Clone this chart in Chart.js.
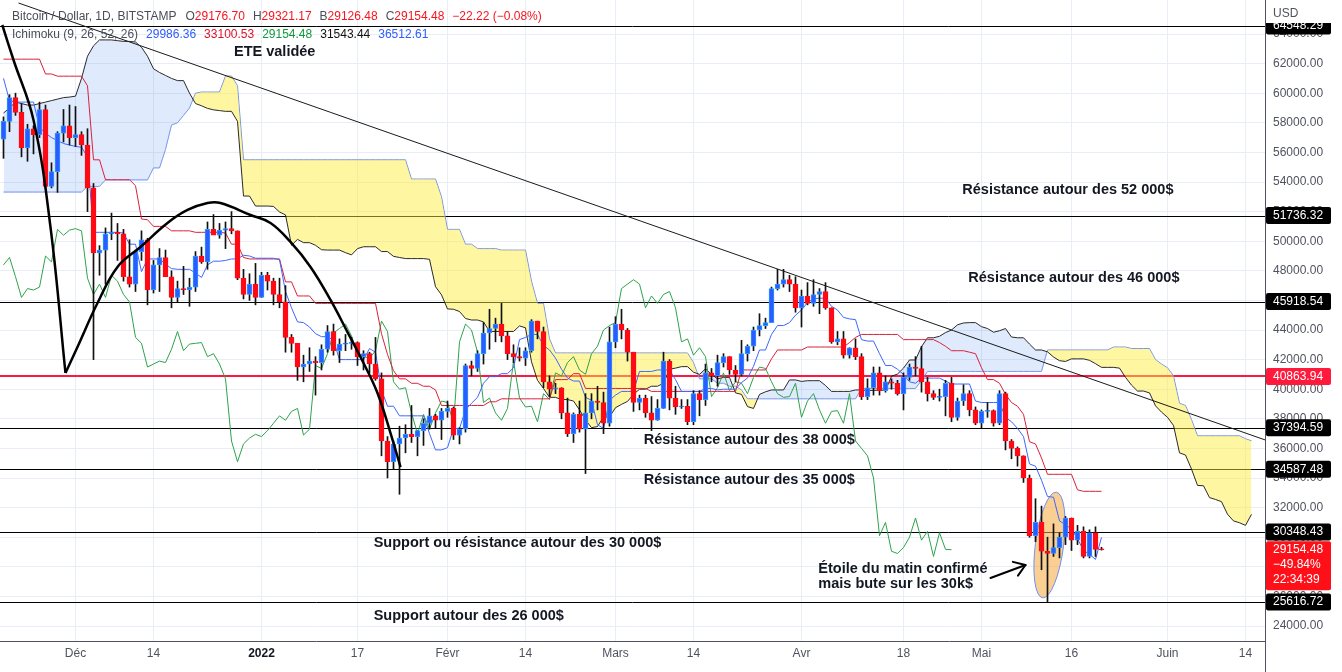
<!DOCTYPE html>
<html>
<head>
<meta charset="utf-8">
<script src="https://cdn.jsdelivr.net/npm/chart.js@4.4.0/dist/chart.umd.min.js"></script>
<style>
  html, body { margin: 0; padding: 0; background: #fff; }
  canvas { display: block; }
</style>
</head>
<body>
<canvas id="chart" width="1342" height="672"></canvas>
<script>
// BTC/USD daily (Bitstamp), day 0 = 19 Nov 2021, last candle = 21 May 2022
const opens = [
  56900,58100,59700,58700,56300,57600,57200,58900,53700,54700,57300,57800,
  57000,57200,56500,53600,49200,49400,50500,50600,50500,47600,47100,49300,
  50100,46700,48400,48900,47600,46200,46800,46700,46900,49000,48600,50800,
  50400,50750,50850,50700,47500,46400,47100,46200,47700,47300,46400,45900,
  43500,43100,41500,41700,41900,41800,42700,43900,42600,43050,43100,43150,
  42200,42400,41700,40700,36500,35100,36300,36700,36950,36800,37200,37700,
  38200,37900,38500,38700,36900,37300,41600,41400,42400,43800,44100,44400,
  43600,42400,42200,42100,42600,44600,43900,40500,40000,40100,38400,37000,
  38300,37300,38400,39200,39100,37700,43200,44400,44000,42500,39100,39400,
  38400,37900,38700,41900,39400,38800,38850,37800,39700,39300,41100,40900,
  41800,42200,41300,41000,42400,42900,44000,44300,44500,46800,47100,47400,
  47100,45500,46300,45800,46400,46600,45500,43200,43400,42300,42800,42200,
  39500,40100,41100,39900,40500,40400,39700,40800,41500,41400,40500,39700,
  39450,39500,40400,38100,39200,39700,38600,37700,38500,38550,37700,39700,
  36500,36000,35500,34000,30100,31000,29050,28900,29300,30000,31300,29800,
  30400,28700,30300,29176.70
];
const highs = [
  58400,59900,60000,59300,57900,57800,59400,59200,55300,57400,58900,59200,
  59100,57400,57600,53900,49700,50900,51900,51200,50800,50100,49400,50700,
  50200,48700,49500,49400,48000,47300,48300,47500,49300,49600,51300,51800,
  51200,51300,52000,50700,48100,47800,48500,47900,47900,47500,47500,47000,
  43700,43100,42300,42800,42200,43000,44300,44400,43400,43700,43500,43200,
  42600,42500,43500,41100,36800,36500,37500,37600,38900,37200,38000,38700,
  38300,38700,39200,38800,37400,41700,41900,42600,44500,45400,44800,45800,
  43900,43000,42800,42800,44700,44600,44200,40900,40400,40100,39400,38400,
  39200,39700,39700,40200,39800,44200,44900,45400,44100,42500,39600,39600,
  39500,39300,42500,42000,40200,39300,39300,39900,39900,41700,41400,42300,
  42400,42200,41600,43300,43000,44200,45100,44800,46900,48100,48100,47700,
  47600,46700,47200,47400,46800,47200,45500,43900,43900,42800,43400,42400,
  40700,41500,41500,40900,40700,40600,41100,41700,42200,42900,40800,39900,
  40000,40600,40800,39400,40300,39900,38800,38600,39100,38600,39900,39800,
  36600,36100,35500,34200,32600,32100,30000,30900,30300,31400,31300,30800,
  30700,30500,30700,29321.17
];
const lows = [
  55600,57400,58500,55700,55400,55900,57000,53600,53600,53300,56700,56500,
  56400,55800,52000,42000,47700,47100,50100,48700,47300,46900,46600,48700,
  45700,46500,46600,47600,45500,45900,46400,45600,46600,48500,48100,50500,
  50200,49500,50500,47400,46100,46000,45700,46200,46700,45700,45500,42500,
  42500,40600,40500,41200,39600,41300,42500,42300,41800,42600,42700,41600,
  41300,41100,40600,35500,34000,34600,32900,35700,36400,35500,36200,37300,
  37400,36600,38100,36600,36300,37100,40900,41200,41700,42700,43200,43200,
  42000,41800,41900,41600,42500,43400,40100,39500,39700,38000,36800,36400,
  37100,34300,38000,38600,37000,37500,42800,43400,41900,38500,38600,38100,
  37200,37900,38700,38600,38300,38700,37600,37600,38200,38900,40500,40200,
  41500,41000,40500,40900,41900,42600,43600,44100,44500,46700,46900,46600,
  45200,44200,45700,45600,45100,45400,43100,43000,42100,42100,42000,39300,
  39300,39600,39600,39800,40000,39600,38600,40600,40900,39800,39200,39300,
  39200,38200,37800,37900,38900,38200,37600,37400,38100,37500,37600,35900,
  35300,34800,33700,30000,29700,27800,25617,28700,28600,29500,29100,29500,
  28600,28600,28700,29126.48
];
const closes = [
  58100,59700,58700,56300,57600,57200,58900,53700,54700,57300,57800,57000,
  57200,56500,53600,49200,49400,50500,50600,50500,47600,47100,49300,50100,
  46700,48400,48900,47600,46200,46800,46700,46900,49000,48600,50800,50400,
  50750,50850,50700,47500,46400,47100,46200,47700,47300,46400,45900,43500,
  43100,41500,41700,41900,41800,42700,43900,42600,43050,43100,43150,42200,
  42400,41700,40700,36500,35100,36300,36700,36950,36800,37200,37700,38200,
  37900,38500,38700,36900,37300,41600,41400,42400,43800,44100,44400,43600,
  42400,42200,42100,42600,44600,43900,40500,40000,40100,38400,37000,38300,
  37300,38400,39200,39100,37700,43200,44400,44000,42500,39100,39400,38400,
  37900,38700,41900,39400,38800,38850,37800,39700,39300,41100,40900,41800,
  42200,41300,41000,42400,42900,44000,44300,44500,46800,47100,47400,47100,
  45500,46300,45800,46400,46600,45500,43200,43400,42300,42800,42200,39500,
  40100,41100,39900,40500,40400,39700,40800,41500,41400,40500,39700,39450,
  39500,40400,38100,39200,39700,38600,37700,38500,38550,37700,39700,36500,
  36000,35500,34000,30100,31000,29050,28900,29300,30000,31300,29800,30400,
  28700,30300,29176.70,29154.48
];

// Ichimoku (9, 26, 52, 26), one value per candle
const tenkan = [
  61000,59500,59400,59400,59400,59400,57700,57300,57000,56800,56600,56500,
  56400,56350,55700,50600,50600,50600,50600,50600,50550,49800,49800,47950,
  48800,48800,48800,48450,48150,48100,48100,48100,47850,47550,48400,48650,
  48650,48700,48800,48800,49050,49000,48850,48850,48850,48850,48750,46600,
  45500,44550,44500,44200,43750,43550,43550,43300,42000,42000,42000,42000,
  42000,42750,42500,39950,38850,38850,38200,38200,38200,38200,38200,37000,
  35900,35900,36050,37350,37350,38600,39050,39450,40400,40850,40850,41050,
  41050,41450,43350,43500,43700,43700,42950,42650,42100,41350,40750,40550,
  40550,39450,39250,37600,37350,39250,39600,39850,39850,39850,41200,41200,
  41200,41300,41300,41300,40650,39850,39850,39850,39850,40050,40050,39950,
  40000,40000,40000,40450,40750,41550,42650,42650,43700,44300,44300,44500,
  45000,45350,45850,46100,46150,46150,45600,45350,44850,44750,44700,43350,
  43250,43250,42400,41600,41600,41350,41000,40500,40400,40750,40750,40750,
  40750,40550,40350,40350,40350,40350,39200,39100,39100,39100,39100,38100,
  37800,37350,36800,34950,34800,33850,32750,32700,31100,30850,30550,29900,
  29100,28850,28500,29986.36
];
const kijun = [
  62300,62300,62300,62300,62300,62300,62300,61300,61300,61150,61150,61150,
  61150,61150,60500,55500,55500,54150,54150,54150,54150,54150,53750,51500,
  51450,51000,51000,51000,50700,50700,50700,50700,50600,50600,50600,50600,
  50600,50550,49800,49800,48900,48800,48800,48800,48800,48800,48800,47250,
  47250,46300,46300,46300,45800,45800,45800,45800,45800,45800,45800,45800,
  45800,45800,45800,43750,42350,41250,40700,40700,40400,40400,40200,40200,
  39950,38900,38900,38900,38900,38900,38900,38900,38900,39150,39150,39350,
  39350,39350,39350,39350,39350,39350,39350,39350,40650,40650,40650,41050,
  41050,40050,40050,40050,40050,40050,40050,40050,40050,40050,40050,40050,
  39850,39850,39850,39850,39850,39850,39850,39850,39850,39850,39850,39850,
  39850,39850,39850,41300,41300,41300,41300,41300,42050,42650,42650,42650,
  42650,42650,42850,42850,42850,42850,42850,42850,42850,43150,43500,43700,
  43700,43700,43700,43700,43700,43700,43350,43350,43350,43350,43350,43350,
  43150,42900,42600,42600,42600,42500,42400,41450,40650,40650,40400,39650,
  39100,38850,38300,36450,36300,35350,34250,34250,34250,34250,34250,33200,
  33100,33100,33100,33100.53
];
// leading spans, already placed 25 days ahead (day 0 .. 208)
const spanA = [
  58660,59000,59400,59300,59200,59200,59300,59400,59500,59600,59700,59740,
  59800,61000,62500,63200,63600,63600,63600,63550,63500,63500,63460,63100,
  62500,61650,61400,61200,61000,60850,60850,60000,59300,59150,58975,58875,
  58825,58775,58775,58100,53050,53050,52375,52375,52375,52350,51975,51775,
  49725,50125,49900,49900,49725,49425,49400,49400,49400,49225,49075,49500,
  49625,49625,49625,49300,49300,48975,48900,48825,48825,48825,48825,48775,
  46925,46375,45425,45400,45250,44775,44675,44675,44550,43900,43900,43900,
  43900,43900,44275,44150,41850,40600,40050,39450,39450,39300,39300,39200,
  38600,37925,37400,37475,38125,38125,38750,38975,39175,39650,40000,40000,
  40200,40200,40400,41350,41425,41525,41525,41150,41000,41375,41000,40700,
  40800,40800,39750,39650,38825,38700,39650,39825,39950,39950,39950,40625,
  40625,40525,40575,40575,40575,40250,39850,39850,39850,39850,39950,39950,
  39900,39925,39925,39925,40875,41025,41425,41975,41975,42875,43475,43475,
  43575,43825,44000,44350,44475,44500,44500,44225,44100,43850,43950,44100,
  43525,43475,43475,43050,42650,42650,42525,42175,41925,41875,42050,42050,
  42050,41950,41725,41475,41475,41475,41425,40800,40275,39875,39875,39750,
  38875,38450,38100,37550,35700,35550,34600,33500,33475,32675,32550,32400,
  31550,31100,30975,30800,31543.44
];
const spanB = [
  53320,53320,53320,53320,53320,53320,53320,53320,53320,53320,53320,53320,
  53320,53320,53700,53700,53700,54140,54140,54140,54140,54140,54140,54140,
  54140,54950,54950,56200,57850,58000,58500,59000,60000,60080,60080,60080,
  60080,61160,61160,60500,55500,55500,55500,55500,55500,55500,55500,55500,
  55500,55500,55500,55500,55500,55500,55500,55500,55500,55500,55500,55500,
  55500,55500,55500,55500,55500,55500,55500,55500,54200,54200,54200,54200,
  54200,53000,50800,50800,50800,49800,49800,49500,49500,49500,49500,49400,
  49400,49400,49400,49400,47300,45800,45800,43400,42450,42450,42450,42450,
  42450,42450,42450,42450,42450,42450,42450,42450,42450,42450,42450,42450,
  42450,42450,42450,42450,42450,42450,42450,41800,40700,40700,40700,40400,
  40400,40200,40200,39950,39350,39350,39350,39350,39350,39350,39350,39350,
  39350,39350,39350,39350,39350,39350,39350,39350,39350,39350,39350,40050,
  40050,40050,40050,40050,40050,40050,40050,40050,40050,40600,41200,41200,
  41200,41200,41200,41200,41200,41200,41200,41200,41200,41200,41200,41200,
  41200,41200,41200,41200,41200,41200,42650,42650,42650,42650,42650,42650,
  42650,42650,42650,42650,42650,42850,42850,42850,42750,42750,42750,42750,
  42000,41700,41450,40900,39050,38900,37950,36850,36850,36850,36850,36850,
  36850,36850,36850,36650,36512.61
];
const chikouShift = 25;

const xTickDays = [12, 25, 43, 59, 74, 87, 102, 115, 133, 150, 163, 178, 194, 207];
const xTickLabels = ['Déc', '14', '2022', '17', 'Févr', '14', 'Mars', '14', 'Avr', '18', 'Mai', '16', 'Juin', '14'];
const priceTicks = [24000, 26000, 28000, 30000, 32000, 34000, 36000, 38000, 40000, 42000,
  44000, 46000, 48000, 50000, 52000, 54000, 56000, 58000, 60000, 62000, 64000];

// horizontal levels drawn on the chart
const levels = [64548.29, 51736.32, 45918.54, 37394.59, 34587.48, 30348.43, 25616.72];
const redLevel = 40863.94;

// drawings (day index, price)
const trendLine = [{ x: 2.5, y: 66095 }, { x: 210.3, y: 36568 }];
const eteLeft = [
  { x: -0.2, y: 64608 }, { x: 1.67, y: 62243 }, { x: 5, y: 58189 },
  { x: 7.83, y: 50959 }, { x: 10.33, y: 41095 }
];
const eteHead = [
  { x: 10.33, y: 41095 }, { x: 12.33, y: 42850 }, { x: 15.67, y: 45820 }, { x: 19, y: 48260 },
  { x: 22.83, y: 49610 }, { x: 27.33, y: 51230 }, { x: 30.67, y: 52110 }, { x: 34, y: 52580 },
  { x: 36.17, y: 52580 }, { x: 41.17, y: 51770 }, { x: 44.5, y: 51230 }, { x: 47.83, y: 49950 },
  { x: 51.17, y: 48260 }, { x: 54.5, y: 46030 }, { x: 57.33, y: 43860 }, { x: 60, y: 41770 },
  { x: 62.33, y: 39740 }, { x: 64.5, y: 37040 }, { x: 66.17, y: 34740 }
];
const notes = [
  { text: 'ETE validée', day: 45.2, price: 62784, align: 'center' },
  { text: 'Résistance autour des 52 000$', day: 159.8, price: 53459 },
  { text: 'Résistance autour des 46 000$', day: 160.8, price: 47514 },
  { text: 'Résistance autour des 38 000$', day: 106.7, price: 36568 },
  { text: 'Résistance autour des 35 000$', day: 106.7, price: 33865 },
  { text: 'Support ou résistance autour des 30 000$', day: 61.7, price: 29608 },
  { text: 'Support autour des 26 000$', day: 61.7, price: 24676 },
  { text: 'Étoile du matin confirmé', day: 135.8, price: 27851 },
  { text: 'mais bute sur les 30k$', day: 135.8, price: 26838 }
];
const starEllipse = { day: 174.33, price: 29473, dDays: 2.35, dPrice: 3600, tilt: 0.13 };
const arrow = { from: { x: 164.5, y: 27243 }, to: { x: 170.33, y: 28122 } };

const FONT = '"Liberation Sans", Arial, sans-serif';
const TEXT = '#131722';
const AXIS_TEXT = '#50535e';
const UP = '#2a5cff';
const DOWN = '#ff0a14';
const RED_LINE = '#ff1744';
const GRID = '#e8eef6';

const dayIdx = opens.map((_, i) => i);
const isUp = i => closes[i] >= opens[i];

const drawings = {
  id: 'drawings',
  beforeDatasetsDraw(chart) {
    const { ctx, chartArea: a, scales: { x, y } } = chart;
    ctx.save();
    ctx.beginPath();
    ctx.rect(a.left, a.top, a.right - a.left, a.bottom - a.top);
    ctx.clip();

    ctx.strokeStyle = '#000';
    ctx.lineWidth = 1;
    levels.forEach(v => {
      const py = Math.round(y.getPixelForValue(v)) + 0.5;
      ctx.beginPath();
      ctx.moveTo(a.left, py);
      ctx.lineTo(a.right, py);
      ctx.stroke();
    });
    const ry = Math.round(y.getPixelForValue(redLevel));
    ctx.strokeStyle = RED_LINE;
    ctx.lineWidth = 2;
    ctx.beginPath();
    ctx.moveTo(a.left, ry);
    ctx.lineTo(a.right, ry);
    ctx.stroke();

    // morning star ellipse
    const cx = x.getPixelForValue(starEllipse.day);
    const cy = y.getPixelForValue(starEllipse.price);
    const rx = x.getPixelForValue(starEllipse.day + starEllipse.dDays) - cx;
    const rr = cy - y.getPixelForValue(starEllipse.price + starEllipse.dPrice);
    ctx.beginPath();
    ctx.ellipse(cx, cy, rx, rr, starEllipse.tilt, 0, Math.PI * 2);
    ctx.fillStyle = 'rgba(246, 168, 60, 0.55)';
    ctx.fill();
    ctx.strokeStyle = '#6f8ff0';
    ctx.lineWidth = 1;
    ctx.stroke();
    ctx.restore();
  },
  afterDraw(chart) {
    const { ctx, chartArea: a, scales: { x, y } } = chart;

    // arrow
    ctx.save();
    const p0 = { x: x.getPixelForValue(arrow.from.x), y: y.getPixelForValue(arrow.from.y) };
    const p1 = { x: x.getPixelForValue(arrow.to.x), y: y.getPixelForValue(arrow.to.y) };
    ctx.strokeStyle = '#000';
    ctx.lineWidth = 2;
    ctx.lineCap = 'round';
    ctx.beginPath();
    ctx.moveTo(p0.x, p0.y);
    ctx.lineTo(p1.x, p1.y);
    ctx.stroke();
    const ang = Math.atan2(p1.y - p0.y, p1.x - p0.x);
    [-1, 1].forEach(s => {
      ctx.beginPath();
      ctx.moveTo(p1.x, p1.y);
      ctx.lineTo(p1.x - 13 * Math.cos(ang + s * 0.6), p1.y - 13 * Math.sin(ang + s * 0.6));
      ctx.stroke();
    });

    // text notes
    ctx.font = 'bold 14.5px ' + FONT;
    ctx.fillStyle = TEXT;
    ctx.textBaseline = 'middle';
    notes.forEach(n => {
      ctx.textAlign = n.align || 'left';
      ctx.fillText(n.text, x.getPixelForValue(n.day), y.getPixelForValue(n.price));
    });

    // legend rows
    const last = closes.length - 1;
    const chg = closes[last] - closes[last - 1];
    const pct = chg / closes[last - 1] * 100;
    const minus = s => s.replace('-', '\u2212');
    const GRAY = '#4a4e58';
    const VRED = '#f7141e';
    const row1 = [
      { t: 'Bitcoin / Dollar, 1D, BITSTAMP', c: GRAY }, { gap: 9 },
      { t: 'O', c: GRAY }, { t: opens[last].toFixed(2), c: VRED }, { gap: 8 },
      { t: 'H', c: GRAY }, { t: highs[last].toFixed(2), c: VRED }, { gap: 8 },
      { t: 'B', c: GRAY }, { t: lows[last].toFixed(2), c: VRED }, { gap: 8 },
      { t: 'C', c: GRAY }, { t: closes[last].toFixed(2), c: VRED }, { gap: 8 },
      { t: minus(chg.toFixed(2)) + ' (' + minus(pct.toFixed(2)) + '%)', c: VRED }
    ];
    const row2 = [
      { t: 'Ichimoku (9, 26, 52, 26)', c: GRAY }, { gap: 8 },
      { t: tenkan[last].toFixed(2), c: '#2f5bff' }, { gap: 8 },
      { t: kijun[last].toFixed(2), c: '#e0102a' }, { gap: 8 },
      { t: closes[last].toFixed(2), c: '#12993c' }, { gap: 8 },
      { t: spanA[spanA.length - 1].toFixed(2), c: '#111' }, { gap: 8 },
      { t: spanB[spanB.length - 1].toFixed(2), c: '#2f5bff' }
    ];
    ctx.font = '12px ' + FONT;
    ctx.textAlign = 'left';
    [[row1, 17], [row2, 35]].forEach(([parts, ty]) => {
      let tx = 12;
      parts.forEach(p => {
        if (p.gap) { tx += p.gap; return; }
        ctx.fillStyle = p.c;
        ctx.fillText(p.t, tx, ty);
        tx += ctx.measureText(p.t).width;
      });
    });

    // price axis labels
    const bx = a.right + 1;
    const bw = 65;
    const box = (yc, lines, bg) => {
      const h = 16 * lines.length + 1;
      ctx.fillStyle = bg;
      ctx.beginPath();
      ctx.roundRect(bx, yc - 8.5, bw, h, 2);
      ctx.fill();
      ctx.fillStyle = '#fff';
      ctx.textAlign = 'left';
      lines.forEach((t, k) => ctx.fillText(t, bx + 7, yc + k * 15));
    };
    ctx.save();
    ctx.beginPath();
    ctx.rect(bx, 23, bw + 10, 700);
    ctx.clip();
    levels.forEach(v => box(y.getPixelForValue(v), [v.toFixed(2)], '#000'));
    ctx.restore();
    box(y.getPixelForValue(redLevel), [redLevel.toFixed(2)], '#ff1a3c');
    box(y.getPixelForValue(closes[last]), [closes[last].toFixed(2), '\u221249.84%', '22:34:39'], '#ff0f17');

    ctx.fillStyle = AXIS_TEXT;
    ctx.font = '12px ' + FONT;
    ctx.fillText('USD', a.right + 8, 14);

    ctx.strokeStyle = AXIS_TEXT;
    ctx.lineWidth = 1;
    ctx.beginPath();
    ctx.moveTo(a.right + 0.5, a.bottom);
    ctx.lineTo(a.right + 0.5, 672);
    ctx.stroke();
    ctx.restore();
  }
};

new Chart(document.getElementById('chart'), {
  type: 'bar',
  data: {
    datasets: [
      {
        type: 'line', label: 'Lead 2', data: spanB.map((v, p) => ({ x: p, y: v })),
        borderColor: '#6f8ff5', borderWidth: 1, pointRadius: 0, tension: 0, order: 10
      },
      {
        type: 'line', label: 'Lead 1', data: spanA.map((v, p) => ({ x: p, y: v })),
        borderColor: 'rgba(20,20,20,0.9)', borderWidth: 1, pointRadius: 0, tension: 0, order: 9,
        fill: { target: 0, above: 'rgba(66,133,244,0.17)', below: 'rgba(255,236,60,0.48)' }
      },
      {
        type: 'line', label: 'Lagging', data: closes.slice(chikouShift).map((v, k) => ({ x: k, y: v })),
        borderColor: '#2ea24a', borderWidth: 1, pointRadius: 0, tension: 0, order: 8
      },
      {
        type: 'line', label: 'Base', data: kijun.map((v, i) => ({ x: i, y: v })),
        borderColor: '#d9213a', borderWidth: 1, pointRadius: 0, tension: 0, order: 7
      },
      {
        type: 'line', label: 'Conversion', data: tenkan.map((v, i) => ({ x: i, y: v })),
        borderColor: '#3d66ff', borderWidth: 1, pointRadius: 0, tension: 0, order: 6
      },
      {
        type: 'bar', label: 'wicks', data: dayIdx.map(i => ({ x: i, y: [lows[i], highs[i]] })),
        backgroundColor: '#111', barThickness: 1, grouped: false, order: 5
      },
      {
        type: 'bar', label: 'bodies', data: dayIdx.map(i => ({ x: i, y: [opens[i], closes[i]] })),
        backgroundColor: c => isUp(c.dataIndex) ? UP : DOWN,
        borderColor: c => isUp(c.dataIndex) ? '#2b9bff' : DOWN,
        borderWidth: 1, borderSkipped: false, barThickness: 5, grouped: false, minBarLength: 1, order: 4
      },
      {
        type: 'line', label: 'trend', data: trendLine,
        borderColor: '#1a1a1a', borderWidth: 1, pointRadius: 0, order: 3
      },
      {
        type: 'line', label: 'ete-left', data: eteLeft,
        borderColor: '#000', borderWidth: 2.5, pointRadius: 0, tension: 0.4, order: 2
      },
      {
        type: 'line', label: 'ete-head', data: eteHead,
        borderColor: '#000', borderWidth: 2.5, pointRadius: 0, tension: 0.4, order: 1
      }
    ]
  },
  options: {
    responsive: false,
    animation: false,
    devicePixelRatio: 1,
    events: [],
    layout: { padding: 0 },
    plugins: { legend: { display: false }, tooltip: { enabled: false } },
    scales: {
      x: {
        type: 'linear',
        min: -3.5 / 6,
        max: -3.5 / 6 + 1265 / 6,
        offset: false,
        afterBuildTicks: s => { s.ticks = xTickDays.map(v => ({ value: v })); },
        afterFit: s => { s.height = 31; s.paddingLeft = 0; s.paddingRight = 0; },
        grid: { color: GRID, drawTicks: false, offset: false },
        border: { display: true, color: AXIS_TEXT },
        ticks: {
          autoSkip: false, maxRotation: 0, padding: 5,
          color: c => (c.tick && c.tick.value === 43) ? '#131722' : AXIS_TEXT,
          font: c => ({ family: FONT, size: 12, weight: (c.tick && c.tick.value === 43) ? 'bold' : 'normal' }),
          callback: v => { const k = xTickDays.indexOf(v); return k >= 0 ? xTickLabels[k] : ''; }
        }
      },
      y: {
        position: 'right',
        min: 64000 - 41013.5,
        max: 64000 + 34 / 0.0148,
        beginAtZero: false,
        afterBuildTicks: s => { s.ticks = priceTicks.map(v => ({ value: v })); },
        afterFit: s => { s.width = 77; s.paddingTop = 0; s.paddingBottom = 0; },
        grid: { color: GRID, drawTicks: false },
        border: { display: true, color: AXIS_TEXT },
        ticks: { padding: 8, color: AXIS_TEXT, font: { family: FONT, size: 12 }, callback: v => Number(v).toFixed(2) }
      }
    }
  },
  plugins: [drawings]
});
</script>
</body>
</html>
